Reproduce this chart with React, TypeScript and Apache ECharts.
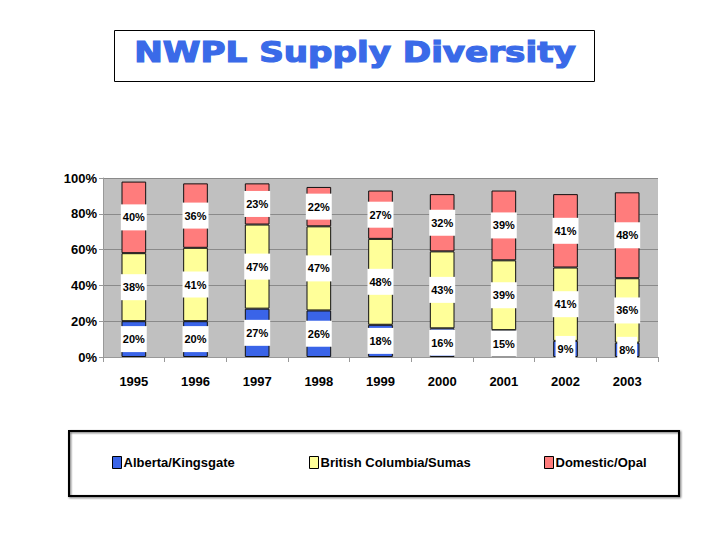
import React, { useEffect, useRef } from "react";
import * as echarts from "echarts";

const years = ["1995", "1996", "1997", "1998", "1999", "2000", "2001", "2002", "2003"];
const alberta = [20, 20, 27, 26, 18, 16, 15, 9, 8];
const bcSumas = [38, 41, 47, 47, 48, 43, 39, 41, 36];
const domestic = [40, 36, 23, 22, 27, 32, 39, 41, 48];
const seriesNames = ["Alberta/Kingsgate", "British Columbia/Sumas", "Domestic/Opal"];
const seriesColors = ["#3a64e8", "#ffff99", "#ff7c7c"];
const titleText = "NWPL Supply Diversity";

const FONT = "'Liberation Sans', Arial, sans-serif";

export default function App() {
  const ref = useRef<HTMLDivElement>(null);
  useEffect(() => {
    if (!ref.current) return;
    const chart = echarts.init(ref.current, null, { renderer: "svg" });
    const values = [alberta, bcSumas, domestic];
    const label = {
      show: true,
      position: "inside",
      formatter: "{c}%",
      color: "#000",
      fontFamily: FONT,
      fontWeight: "bold",
      fontSize: 11,
      backgroundColor: "#fff",
      padding: [8, 2, 7, 2],
    };
    const legendX = [107, 304, 539];
    chart.setOption({
      animation: false,
      backgroundColor: "#fff",
      grid: {
        left: 103,
        right: 62,
        top: 178,
        bottom: 183,
        show: true,
        backgroundColor: "#c0c0c0",
        borderWidth: 0,
      },
      legend: seriesNames.map((name, i) => ({
        left: legendX[i],
        top: 451,
        itemWidth: 9,
        itemHeight: 12,
        icon: "rect",
        textStyle: { fontFamily: FONT, fontWeight: "bold", fontSize: 13, color: "#000", padding: [0, 0, 0, -3] },
        itemStyle: { borderColor: "#000", borderWidth: 1 },
        data: [name],
      })),
      xAxis: {
        type: "category",
        data: years,
        axisLine: { lineStyle: { color: "#999" } },
        axisTick: { show: true, length: 5, lineStyle: { color: "#999" } },
        axisLabel: { color: "#000", fontFamily: FONT, fontWeight: "bold", fontSize: 13, margin: 18 },
      },
      yAxis: {
        type: "value",
        min: 0,
        max: 100,
        interval: 20,
        axisLine: { show: true, lineStyle: { color: "#999" } },
        axisTick: { show: true, length: 4, lineStyle: { color: "#999" } },
        axisLabel: { formatter: "{value}%", color: "#000", fontFamily: FONT, fontWeight: "bold", fontSize: 13, margin: 6 },
        splitLine: { lineStyle: { color: "#8a8a8a", width: 1 } },
      },
      series: seriesNames.map((name, i) => ({
        name,
        type: "bar",
        stack: "total",
        barWidth: "40%",
        data: values[i],
        itemStyle: { color: seriesColors[i], borderColor: "#111", borderWidth: 1 },
        label,
      })),
      graphic: [
        {
          type: "rect",
          shape: { x: 114.5, y: 30.5, width: 480, height: 51 },
          style: { fill: "#fff", stroke: "#000", lineWidth: 1 },
        },
        {
          type: "text",
          x: 355,
          y: 52,
          scaleX: 1.22,
          style: {
            text: titleText,
            fill: "#3a6ae8",
            stroke: "#3a6ae8",
            lineWidth: 1.2,
            font: "bold 28px 'DejaVu Sans', Verdana, sans-serif",
            align: "center",
            verticalAlign: "middle",
          },
        },
        {
          type: "rect",
          shape: { x: 69, y: 431, width: 610, height: 65 },
          style: { fill: "transparent", stroke: "#000", lineWidth: 2, shadowColor: "rgba(0,0,0,0.6)", shadowBlur: 2, shadowOffsetX: 1, shadowOffsetY: 1 },
          z: -1,
        },
      ],
    });
    return () => chart.dispose();
  }, []);
  return <div ref={ref} style={{ position: "fixed", left: 0, top: 0, width: 720, height: 540 }} />;
}
